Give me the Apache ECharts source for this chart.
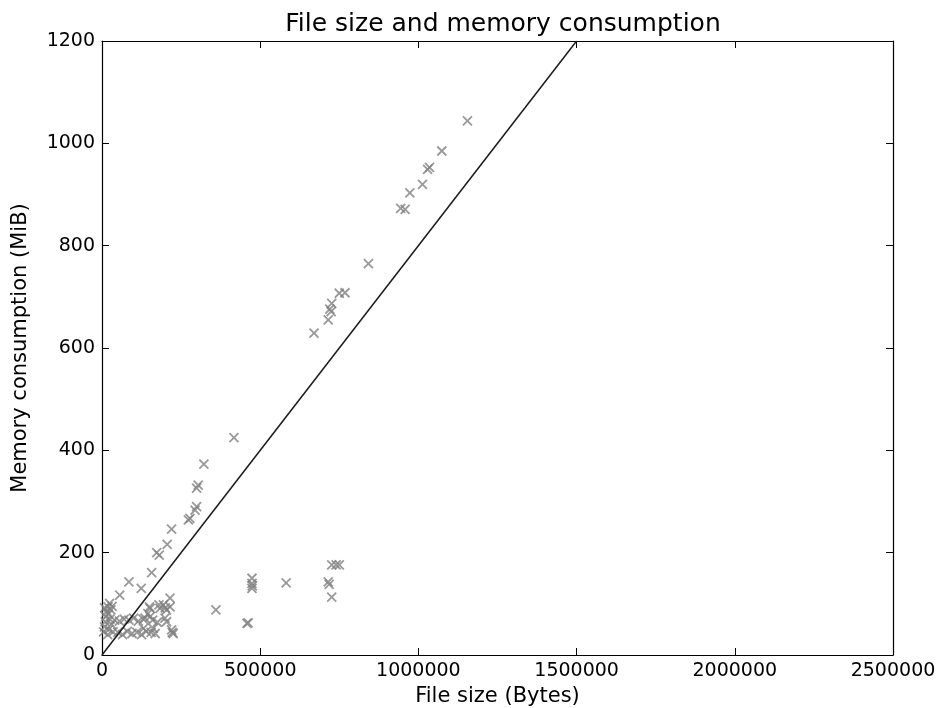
<!DOCTYPE html>
<html>
<head>
<meta charset="utf-8">
<script src="https://cdn.jsdelivr.net/npm/echarts@6/dist/echarts.min.js"></script>
<style>html,body{margin:0;padding:0;background:#fff}#c{width:941px;height:708px}</style>
</head>
<body>
<div id="c"></div>
<script>
// File size (Bytes) and memory consumption (MiB)
const fileSize = [
  1155000,1074000,1035000,1029000,1013000,973000,944000,958000,842000,768000,
  750000,726000,720000,724000,715000,670000,417000,322000,304000,299000,
  299000,294000,278000,273000,220000,206000,173000,181000,157000,124000,
  85000,56000,24000,19000,
  726000,740000,750000,715000,718000,726000,582000,474000,474000,475000,
  474000,462000,458000,360000,
  215000,194000,183000,204000,215000,199000,204000,220000,225000,222000,
  152000,136000,152000,131000,162000,168000,150000,145000,180000,200000,
  5000,8000,10000,12000,15000,8000,20000,25000,30000,28000,35000,18000,22000,32000,
  40000,55000,70000,85000,100000,115000,130000,160000,175000,
  50000,65000,80000,95000,110000,125000,140000,155000
];
const memory = [
  1044,985,953,949,920,903,873,871,765,708,
  707,687,676,671,655,629,425,373,332,326,
  290,283,267,264,246,216,200,195,161,130,
  143,117,101,94,
  176,176,176,143,138,113,141,150,140,135,
  130,63,62,88,
  111,98,91,88,94,72,65,49,42,44,
  91,72,75,52,52,42,94,81,98,92,
  45,55,65,75,85,92,80,70,60,88,45,40,50,95,
  68,66,70,68,72,66,70,68,64,
  44,40,46,42,44,40,46,44
];
const fitLineX = [0, 1500000];
const fitLineY = [0, 1200];
const xTicks = [0, 500000, 1000000, 1500000, 2000000, 2500000];
const yTicks = [0, 200, 400, 600, 800, 1000, 1200];

const pts = fileSize.map((v, i) => [v, memory[i]]);
const linePts = fitLineX.map((v, i) => [v, fitLineY[i]]);

const font = 'DejaVu Sans';
const tickFont = 19;
const nameFont = 21;
function axisBase(extra) {
  return Object.assign({
    type: 'value',
    axisLine: { show: true, onZero: false, lineStyle: { color: '#000', width: 1.2 } },
    axisTick: { show: true, inside: true, length: 7, lineStyle: { color: '#000', width: 1 } },
    splitLine: { show: false },
    axisLabel: { color: '#000', fontFamily: font, fontSize: tickFont, margin: 7, formatter: v => String(v) }
  }, extra);
}

const chart = echarts.init(document.getElementById('c'), null, { renderer: 'canvas' });
chart.setOption({
  animation: false,
  backgroundColor: '#fff',
  title: {
    text: 'File size and memory consumption',
    left: 498, top: 7, textAlign: 'center',
    textStyle: { fontFamily: font, fontSize: 25, fontWeight: 'normal', color: '#000' }
  },
  grid: { left: 102, right: 48, top: 41, bottom: 53, containLabel: false, outerBoundsMode: 'none' },
  xAxis: [
    axisBase({
      min: xTicks[0], max: xTicks[xTicks.length - 1], interval: 500000,
      position: 'bottom',
      name: 'File size (Bytes)', nameLocation: 'middle', nameGap: 30,
      nameTextStyle: { fontFamily: font, fontSize: nameFont, color: '#000' }
    }),
    axisBase({
      min: xTicks[0], max: xTicks[xTicks.length - 1], interval: 500000,
      position: 'top', axisLabel: { show: false }
    })
  ],
  yAxis: [
    axisBase({
      min: yTicks[0], max: yTicks[yTicks.length - 1], interval: 200,
      position: 'left',
      name: 'Memory consumption (MiB)', nameLocation: 'middle', nameGap: 71,
      nameTextStyle: { fontFamily: font, fontSize: nameFont, color: '#000' }
    }),
    axisBase({
      min: yTicks[0], max: yTicks[yTicks.length - 1], interval: 200,
      position: 'right', axisLabel: { show: false }
    })
  ],
  series: [
    {
      type: 'scatter',
      data: pts,
      symbol: 'path://M0,0L10,10M10,0L0,10',
      symbolSize: 9,
      itemStyle: { color: 'none', borderColor: '#7f7f7f', borderWidth: 1.8 },
      z: 2
    },
    {
      type: 'line',
      data: linePts,
      showSymbol: false,
      symbol: 'none',
      lineStyle: { color: '#1a1a1a', width: 1.5 },
      clip: true,
      z: 3
    }
  ]
});
</script>
</body>
</html>
